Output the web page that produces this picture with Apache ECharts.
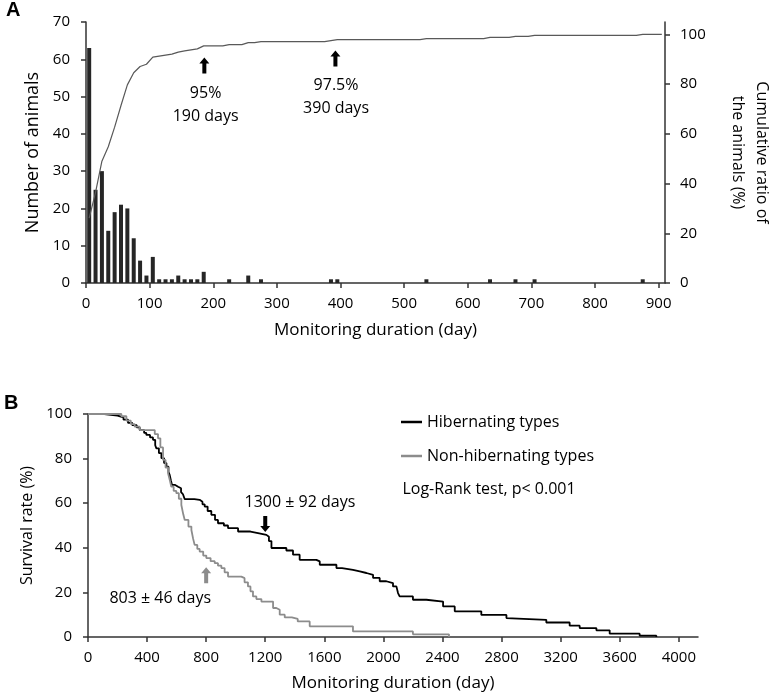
<!DOCTYPE html>
<html>
<head>
    <meta charset="utf-8">
    <title>Monitoring duration</title>
    <script src="https://cdn.jsdelivr.net/npm/echarts@6/dist/echarts.min.js"></script>
    <style>
        body { margin: 0; background: #fff; }
    </style>
</head>
<body>
<div id="main" style="width: 782px;height:696px;"></div>
<script type="text/javascript">
    // panel A - histogram of monitoring duration (10 day bins, bar at bin centre)
    var barDays = [5, 15, 25, 35, 45, 55, 65, 75, 85, 95, 105, 115, 125, 135, 145, 155, 165, 175, 185,
        225, 255, 275, 385, 395, 535, 635, 675, 705, 875];
    var barCounts = [63, 25, 30, 14, 19, 21, 20, 12, 6, 2, 7, 1, 1, 1, 2, 1, 1, 1, 3,
        1, 2, 1, 1, 1, 1, 1, 1, 1, 1];

    // panel A - cumulative ratio line (%)
    var cumDays = [5, 15, 25, 35, 45, 55, 65, 75, 85, 95, 105, 115, 125, 135, 145, 155, 165, 175, 185,
        215, 225, 245, 255, 265, 275, 375, 385, 395, 525, 535, 625, 635, 665, 675, 695, 705, 865, 875, 905];
    var cumPct = [26.1, 36.5, 49.0, 54.8, 62.7, 71.4, 79.7, 84.6, 87.1, 88.0, 90.9, 91.3, 91.7, 92.1, 92.9, 93.4, 93.8, 94.2, 95.4,
        95.4, 95.9, 95.9, 96.7, 96.7, 97.1, 97.1, 97.5, 97.9, 97.9, 98.3, 98.3, 98.8, 98.8, 99.2, 99.2, 99.6, 99.6, 100, 100];

    // panel B - survival curves
    var hibDays = [0, 110, 200, 240, 271, 300, 330, 350, 380, 395, 420, 440, 455, 463, 480, 497, 515, 531, 545, 553,
        562, 569, 590, 610, 630, 643, 655, 720, 756, 775, 790, 810, 835, 860, 880, 920, 948, 1016, 1100, 1151,
        1208, 1225, 1242, 1343, 1388, 1433, 1546, 1569, 1682, 1720, 1794, 1840, 1885, 1930, 1975, 2020, 2065, 2088, 2099, 2110,
        2200, 2291, 2404, 2483, 2663, 2833, 2844, 3103, 3261, 3329, 3442, 3532, 3735, 3848];
    var hibSurv = [100, 99.3, 98.5, 97.5, 96, 95, 94, 92.8, 91.5, 90.6, 89.5, 88.4, 86, 84.6, 82.5, 80.2, 78, 76.4, 74, 72.7,
        70, 68.2, 67.4, 66.7, 65, 64, 61.8, 61.5, 60.7, 59.5, 58.5, 56.5, 54.8, 52.5, 51, 50, 48.8, 47.3, 46.6, 45.8,
        45, 43, 39.9, 38.8, 36.9, 34.6, 33.9, 32.4, 30.9, 30.1, 29.4, 28.7, 27.9, 26.5, 25, 24.2, 22.7, 21.9, 19.7, 18.2,
        16.7, 15.9, 13.7, 11.5, 9.9, 8.5, 7.7, 6.5, 5.1, 4.0, 3.0, 1.5, 0.6, 0];
    var nonDays = [0, 226, 260, 290, 316, 350, 452, 474, 490, 508, 525, 542, 555, 564, 580, 598, 615, 632, 645, 655,
        680, 700, 712, 722, 740, 756, 780, 801, 830, 858, 880, 903, 925, 948, 1038, 1060, 1083, 1100, 1117, 1140,
        1174, 1253, 1275, 1298, 1332, 1380, 1420, 1501, 1794, 2200, 2444];
    var nonSurv = [100, 99, 97, 95.5, 94.3, 92.8, 91, 89.1, 85, 79.4, 76, 73.4, 70, 67.4, 65.5, 64.5, 62, 59.2, 55, 52.5,
        49.5, 48, 44, 41.3, 39.5, 38.3, 36.5, 35.4, 34, 33.1, 32, 30.9, 29, 27.1, 26.4, 24.5, 22.7, 20.5, 18.2, 17,
        15.9, 13, 12.2, 10, 8.8, 8.1, 7, 4.8, 2.5, 1.2, 0];

    var xTicksA = [0, 100, 200, 300, 400, 500, 600, 700, 800, 900];
    var rightTicksA = [0, 20, 40, 60, 80, 100];
    var xTicksB = [0, 400, 800, 1200, 1600, 2000, 2400, 2800, 3200, 3600, 4000];

    function pairs(xs, ys) {
        var out = [];
        for (var i = 0; i < xs.length; i++) out.push([xs[i], ys[i]]);
        return out;
    }

    var font = '"Open Sans", "Noto Sans", sans-serif';
    var axisColor = '#333';
    var upArrow = 'path://M5,0L10,6L7,6L7,16L3,16L3,6L0,6Z';
    var downArrow = 'path://M3,0L7,0L7,10L10,10L5,16L0,10L3,10Z';

    function textPoint(coord, text, align) {
        return {
            coord: coord, symbol: 'rect', symbolSize: 1,
            itemStyle: {color: 'transparent'},
            label: {
                show: true, position: 'inside', formatter: text, align: align || 'center',
                color: '#000', fontSize: 16, lineHeight: 23, fontFamily: font
            }
        };
    }
    function arrowPoint(coord, path, color) {
        return {
            coord: coord, symbol: path, symbolSize: [10, 16],
            itemStyle: {color: color}, label: {show: false}
        };
    }

    function valueAxis(o) {
        var base = {
            type: 'value',
            splitLine: {show: false},
            axisLine: {show: true, lineStyle: {color: axisColor, width: 1.5}},
            axisTick: {show: true, length: 5, lineStyle: {color: axisColor, width: 1.5}},
            axisLabel: {color: '#000', fontSize: 15, fontFamily: font, formatter: function (v) { return String(v); }},
            nameTextStyle: {color: '#000', fontSize: 17, fontFamily: font},
            nameLocation: 'middle'
        };
        for (var k in o) {
            if (typeof o[k] === 'object' && base[k] && !Array.isArray(o[k])) {
                for (var j in o[k]) base[k][j] = o[k][j];
            } else base[k] = o[k];
        }
        return base;
    }

    var myChart = echarts.init(document.getElementById('main'));
    myChart.setOption({
        animation: false,
        backgroundColor: '#fff',
        title: [
            {text: 'A', left: 6, top: 0, padding: 0, textStyle: {fontSize: 20, fontWeight: 'bold', fontFamily: 'Liberation Sans', color: '#000'}},
            {text: 'B', left: 4, top: 393, padding: 0, textStyle: {fontSize: 20, fontWeight: 'bold', fontFamily: 'Liberation Sans', color: '#000'}}
        ],
        legend: {
            data: ['Hibernating types', 'Non-hibernating types'],
            orient: 'vertical', left: 401, top: 412, padding: 0,
            icon: 'rect', itemWidth: 21, itemHeight: 2.5, itemGap: 14,
            selectedMode: false,
            textStyle: {color: '#000', fontSize: 16, fontFamily: font, lineHeight: 20}
        },
        grid: [
            {left: 86, right: 89, top: 22, height: 261},
            {left: 88, right: 84, top: 414, height: 223}
        ],
        xAxis: [
            valueAxis({gridIndex: 0, min: 0, max: 910, interval: 100,
                name: 'Monitoring duration (day)', nameGap: 39,
                axisTick: {customValues: xTicksA},
                axisLabel: {customValues: xTicksA, margin: 13}}),
            valueAxis({gridIndex: 1, min: 0, max: 4130, interval: 400,
                name: 'Monitoring duration (day)', nameGap: 38,
                axisTick: {customValues: xTicksB},
                axisLabel: {customValues: xTicksB, margin: 13}})
        ],
        yAxis: [
            valueAxis({gridIndex: 0, min: 0, max: 70, interval: 10,
                name: 'Number of animals', nameGap: 42,
                nameTextStyle: {fontSize: 18},
                axisLabel: {margin: 16}}),
            valueAxis({gridIndex: 0, position: 'right', min: 0, max: 105, interval: 20,
                name: 'Cumulative ratio of\nthe animals (%)', nameGap: 61, nameRotate: -90,
                nameTextStyle: {fontSize: 16, lineHeight: 24},
                axisTick: {customValues: rightTicksA},
                axisLabel: {customValues: rightTicksA, margin: 15}}),
            valueAxis({gridIndex: 1, min: 0, max: 100, interval: 20,
                name: 'Survival rate (%)', nameGap: 43,
                nameTextStyle: {fontSize: 16},
                axisLabel: {margin: 16}})
        ],
        series: [
            {
                name: 'Number of animals',
                type: 'bar',
                xAxisIndex: 0, yAxisIndex: 0,
                barWidth: 4,
                itemStyle: {color: '#262626'},
                data: pairs(barDays, barCounts)
            },
            {
                name: 'Cumulative ratio',
                type: 'line',
                xAxisIndex: 0, yAxisIndex: 1,
                symbol: 'none',
                lineStyle: {color: '#595959', width: 1.2},
                data: pairs(cumDays, cumPct),
                markPoint: {
                    silent: true,
                    data: [
                        arrowPoint([186, 87.5], upArrow, '#000'),
                        arrowPoint([392, 90.3], upArrow, '#000'),
                        textPoint([188, 71.7], '95%\n190 days'),
                        textPoint([393, 74.8], '97.5%\n390 days')
                    ]
                }
            },
            {
                name: 'Hibernating types',
                type: 'line',
                xAxisIndex: 1, yAxisIndex: 2,
                step: 'end',
                symbol: 'none',
                color: '#000',
                lineStyle: {color: '#000', width: 1.8},
                data: pairs(hibDays, hibSurv),
                markPoint: {
                    silent: true,
                    data: [
                        arrowPoint([1200, 50.7], downArrow, '#000'),
                        textPoint([1435, 60.3], '1300 ± 92 days'),
                        textPoint([2129, 66], 'Log-Rank test, p< 0.001', 'left')
                    ]
                }
            },
            {
                name: 'Non-hibernating types',
                type: 'line',
                xAxisIndex: 1, yAxisIndex: 2,
                step: 'end',
                symbol: 'none',
                color: '#8c8c8c',
                lineStyle: {color: '#8c8c8c', width: 1.8},
                data: pairs(nonDays, nonSurv),
                markPoint: {
                    silent: true,
                    data: [
                        arrowPoint([800, 27.7], upArrow, '#8c8c8c'),
                        textPoint([489, 17.5], '803 ± 46 days')
                    ]
                }
            }
        ]
    });
</script>
</body>
</html>
